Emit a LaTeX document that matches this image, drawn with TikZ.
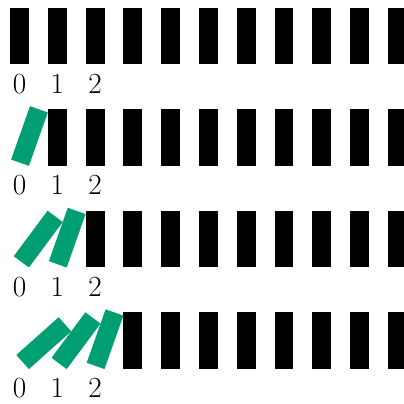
\documentclass[tikz,border=0pt]{standalone}
\definecolor{dgreen}{HTML}{009E73}
\begin{document}
\begin{tikzpicture}[
  upright/.style={fill=black},
  fallen/.style={fill=dgreen},
  lbl/.style={anchor=base, inner sep=0pt, font=\fontsize{22}{26}\selectfont}
]
\useasboundingbox (0,0) rectangle (10.689,10.663);
\clip (0,0) rectangle (10.689,10.663);
% rows: r, bottom y
\foreach \r in {0,1,2,3}{
  \pgfmathsetmacro{\Y}{8.962-2.688*\r}
  \foreach \i in {\r,...,10}{
    \fill[upright] (\i+0.265,\Y) rectangle ++(0.5,1.5);
  }
  \foreach \i in {0,1,2}{
    \node[lbl] (l\r-\i) at (\i+0.515,\Y-0.765) {\i};
  }
}
% fallen dominoes (pivot at bottom-right corner)
\def\A{19.47}\def\B{36.64}\def\C{48.27}
% row 1
\pgfmathsetmacro{\Y}{8.962-2.688}
\fill[fallen, rotate around={-\A:(0.765,\Y)}] (0.265,\Y) rectangle ++(0.5,1.5);
% row 2
\pgfmathsetmacro{\Y}{8.962-2*2.688}
\fill[fallen, rotate around={-\A:(1.765,\Y)}] (1.265,\Y) rectangle ++(0.5,1.5);
\fill[fallen, rotate around={-\B:(0.765,\Y)}] (0.265,\Y) rectangle ++(0.5,1.5);
% row 3
\pgfmathsetmacro{\Y}{8.962-3*2.688}
\fill[fallen, rotate around={-\A:(2.765,\Y)}] (2.265,\Y) rectangle ++(0.5,1.5);
\fill[fallen, rotate around={-\B:(1.765,\Y)}] (1.265,\Y) rectangle ++(0.5,1.5);
\fill[fallen, rotate around={-\C:(0.765,\Y)}] (0.265,\Y) rectangle ++(0.5,1.5);
\end{tikzpicture}
\end{document}
